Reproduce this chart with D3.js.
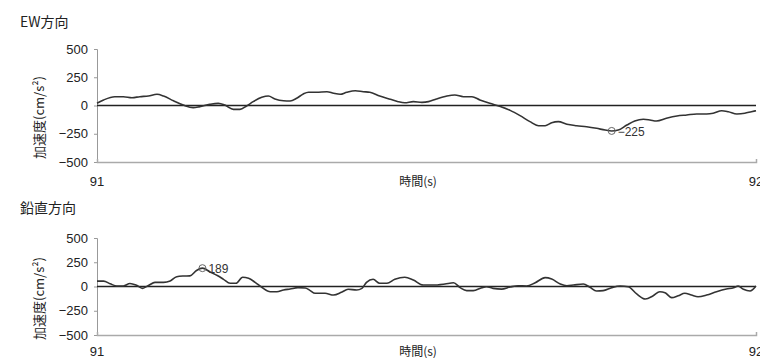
<!DOCTYPE html>
<html><head><meta charset="utf-8">
<script src="https://cdn.jsdelivr.net/npm/d3@7"></script>
<style>body{margin:0;background:#fff}svg{display:block}</style>
</head><body>
<svg id="c" width="760" height="358"></svg>
<script>
const titles = ["EW方向", "鉛直方向"];
const yTicks = [500, 250, 0, -250, -500];
const xTickLabels = ["91", "92"];
const xLabel = "時間(s)";
const yLabel = "加速度(cm/s²)";
const tStart = 91;
// time offsets (s) and accelerations (cm/s²)
const ewT = [0.000,0.010,0.027,0.040,0.053,0.065,0.078,0.091,0.101,0.116,0.131,0.146,0.156,0.171,0.184,0.194,0.207,0.217,0.227,0.237,0.250,0.260,0.270,0.283,0.293,0.303,0.313,0.321,0.333,0.349,0.359,0.369,0.379,0.392,0.404,0.414,0.429,0.445,0.457,0.467,0.480,0.493,0.503,0.515,0.531,0.543,0.556,0.569,0.581,0.596,0.612,0.627,0.642,0.657,0.670,0.680,0.690,0.700,0.713,0.728,0.743,0.758,0.771,0.781,0.791,0.804,0.816,0.829,0.839,0.849,0.864,0.880,0.895,0.910,0.925,0.935,0.948,0.958,0.971,0.983,0.993,1.000];
const ewV = [20,49,78,78,69,78,84,99,84,42,4,-19,-10,10,19,4,-34,-34,-4,34,72,84,58,42,40,64,102,117,117,122,108,99,117,131,122,117,84,55,34,25,34,28,34,58,84,93,78,78,49,19,-8,-43,-90,-143,-179,-179,-152,-143,-166,-179,-188,-202,-217,-225,-217,-173,-137,-122,-128,-137,-113,-93,-84,-75,-75,-69,-46,-55,-75,-69,-55,-46];
const udT = [0.000,0.010,0.020,0.030,0.040,0.050,0.060,0.069,0.078,0.088,0.101,0.111,0.121,0.131,0.141,0.151,0.160,0.171,0.184,0.192,0.202,0.211,0.221,0.230,0.240,0.250,0.263,0.273,0.283,0.293,0.305,0.316,0.323,0.331,0.346,0.359,0.371,0.381,0.394,0.402,0.409,0.419,0.429,0.440,0.452,0.467,0.480,0.495,0.510,0.528,0.541,0.551,0.561,0.571,0.584,0.591,0.601,0.614,0.627,0.639,0.652,0.665,0.680,0.690,0.703,0.713,0.723,0.738,0.748,0.758,0.768,0.781,0.794,0.806,0.819,0.832,0.844,0.854,0.862,0.872,0.882,0.892,0.902,0.912,0.925,0.940,0.955,0.966,0.973,0.981,0.991,1.000];
const udV = [55,55,28,5,5,31,12,-19,10,43,43,57,101,108,110,165,189,153,108,74,33,33,95,85,43,-8,-54,-54,-36,-26,-12,-15,-40,-70,-70,-88,-60,-29,-36,-19,43,74,33,33,74,95,67,15,15,26,39,-12,-43,-43,-12,-2,-19,-27,-5,8,5,39,91,77,26,8,15,26,-8,-46,-43,-12,5,-2,-77,-129,-95,-54,-64,-115,-95,-70,-88,-105,-88,-54,-26,-12,5,-29,-46,5];

const svg = d3.select("#c");
const fontNum = "'Liberation Sans', Arial, sans-serif";
const fontJp = "'Noto Sans CJK JP', sans-serif";
const x = d3.scaleLinear().domain([tStart, tStart + 1]).range([97, 756]);

const panels = [
  {title: titles[0], ts: ewT, vs: ewV, top: 49, bottom: 162, titleY: 27, labelY: 186},
  {title: titles[1], ts: udT, vs: udV, top: 238, bottom: 335, titleY: 213, labelY: 356}
];

panels.forEach(p => {
  const y = d3.scaleLinear().domain([-500, 500]).range([p.bottom, p.top]);
  const g = svg.append("g");
  g.append("text").attr("x", 20).attr("y", p.titleY).text(p.title)
    .attr("font-family", fontJp).attr("font-size", 14).attr("fill", "#222");
  const ya = g.append("g").attr("transform", `translate(${x.range()[0]},0)`)
    .call(d3.axisLeft(y).tickValues(yTicks).tickSize(3).tickPadding(6).tickFormat(d => d < 0 ? "−" + Math.abs(d) : d));
  ya.select(".domain").attr("stroke", "#999");
  ya.selectAll(".tick line").attr("stroke", "#999");
  ya.selectAll(".tick text").attr("font-family", fontNum).attr("font-size", 13).attr("fill", "#222");
  const xa = g.append("g").attr("transform", `translate(0,${p.bottom})`)
    .call(d3.axisBottom(x).tickValues([tStart + 1]).tickSize(-3).tickFormat(""));
  xa.select(".domain").attr("stroke", "#aaa").attr("stroke-width", 1.5);
  xa.selectAll(".tick line").attr("stroke", "#aaa");
  [tStart, tStart + 1].forEach((v, i) => {
    g.append("text").attr("x", x(v)).attr("y", p.labelY).attr("text-anchor", "middle")
      .attr("font-family", fontNum).attr("font-size", 13).attr("fill", "#222").text(xTickLabels[i]);
  });
  g.append("text").attr("x", 418).attr("y", p.labelY).attr("text-anchor", "middle")
    .attr("font-family", fontJp).attr("font-size", 12).attr("fill", "#222").text(xLabel);
  const cy = (p.top + p.bottom) / 2 + 12;
  g.append("text").attr("transform", `translate(44,${cy}) rotate(-90)`).attr("text-anchor", "middle")
    .attr("font-family", fontJp).attr("font-size", 13).attr("fill", "#222").text(yLabel);
  g.append("line").attr("x1", x.range()[0]).attr("x2", x.range()[1]).attr("y1", y(0)).attr("y2", y(0))
    .attr("stroke", "#222").attr("stroke-width", 1.5);
  const data = p.ts.map((t, i) => [tStart + t, p.vs[i]]);
  g.append("path").datum(data).attr("fill", "none").attr("stroke", "#333").attr("stroke-width", 1.6)
    .attr("stroke-linejoin", "round")
    .attr("d", d3.line().x(d => x(d[0])).y(d => y(d[1])).curve(d3.curveMonotoneX));
  let idx = 0;
  p.vs.forEach((v, i) => { if (Math.abs(v) > Math.abs(p.vs[idx])) idx = i; });
  const ex = x(tStart + p.ts[idx]), ey = y(p.vs[idx]);
  g.append("circle").attr("cx", ex).attr("cy", ey).attr("r", 3.5).attr("fill", "none").attr("stroke", "#666");
  g.append("text").attr("x", ex + 6).attr("y", ey + 5).attr("font-family", fontNum).attr("font-size", 12)
    .attr("fill", "#333").text(p.vs[idx] < 0 ? "−" + Math.abs(p.vs[idx]) : p.vs[idx]);
});
</script>
</body></html>
